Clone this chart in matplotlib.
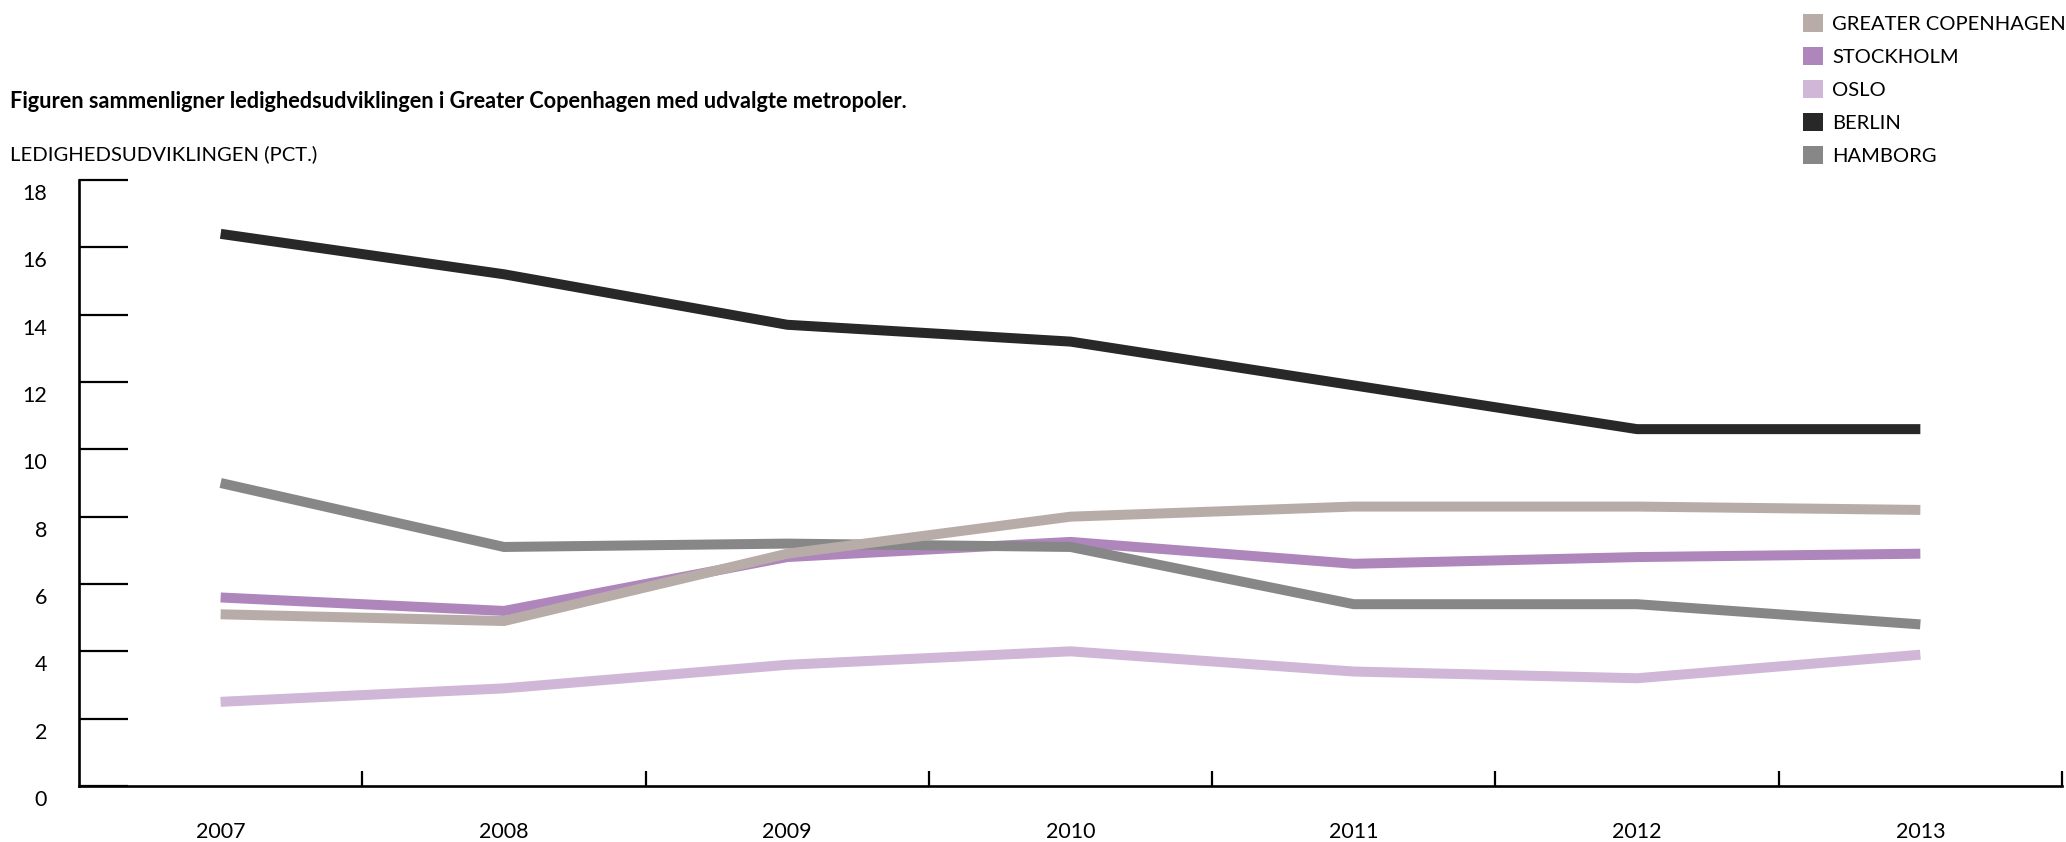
import matplotlib
matplotlib.use("Agg")
import matplotlib.pyplot as plt
import matplotlib.transforms as mtransforms
from matplotlib.patches import Patch

# Ledighed (pct.) 2007-2013
years = ["2007", "2008", "2009", "2010", "2011", "2012", "2013"]
greater_copenhagen = [5.1, 4.9, 6.9, 8.0, 8.3, 8.3, 8.2]
stockholm = [5.6, 5.2, 6.8, 7.25, 6.6, 6.8, 6.9]
oslo = [2.5, 2.9, 3.6, 4.0, 3.4, 3.2, 3.9]
berlin = [16.4, 15.2, 13.7, 13.2, 11.9, 10.6, 10.6]
hamborg = [9.0, 7.1, 7.2, 7.1, 5.4, 5.4, 4.8]

labels = ["GREATER COPENHAGEN", "STOCKHOLM", "OSLO", "BERLIN", "HAMBORG"]
colors = ["#b8aca8", "#ae86bb", "#d0b6d7", "#282828", "#878787"]
yticks = [2, 4, 6, 8, 10, 12, 14, 16, 18]

plt.rcParams['font.family'] = ['Lato', 'DejaVu Sans']

fig = plt.figure(figsize=(20.66, 8.42), dpi=100)
ax = fig.add_axes([79 / 2066, 1 - 786 / 842, (2062 - 79) / 2066, (786 - 180) / 842])

x = list(range(len(years)))
series = {
    "GREATER COPENHAGEN": greater_copenhagen,
    "STOCKHOLM": stockholm,
    "OSLO": oslo,
    "BERLIN": berlin,
    "HAMBORG": hamborg,
}
# draw order: copenhagen on top
draw_order = ["OSLO", "STOCKHOLM", "HAMBORG", "BERLIN", "GREATER COPENHAGEN"]
for name in draw_order:
    ax.plot(x, series[name], color=colors[labels.index(name)], lw=7.2,
            solid_capstyle='butt', solid_joinstyle='miter', zorder=3)

ax.set_xlim(-0.5, len(years) - 0.5)
ax.set_ylim(0, 18)

for side in ["top", "right"]:
    ax.spines[side].set_visible(False)
for side in ["left", "bottom"]:
    ax.spines[side].set_linewidth(1.9)
    ax.spines[side].set_color("black")

# y axis
ax.set_yticks([0] + yticks)
ax.set_yticklabels(["0"] + [str(t) for t in yticks])
ax.tick_params(axis='y', direction='in', length=35, width=1.6, pad=23,
               labelsize=15.5, colors='black')
offset = mtransforms.ScaledTranslation(0, -12 / 100, fig.dpi_scale_trans)
for lbl in ax.get_yticklabels():
    lbl.set_transform(lbl.get_transform() + offset)

# x axis: ticks at category borders, labels at centres
bounds = [i + 0.5 for i in range(len(years))]
ax.set_xticks(bounds)
ax.set_xticklabels([""] * len(bounds))
ax.tick_params(axis='x', which='major', direction='in', length=11, width=1.6)
ax.set_xticks(x, minor=True)
ax.set_xticklabels(years, minor=True)
ax.tick_params(axis='x', which='minor', length=0, pad=26, labelsize=15.5)

fig.text(10 / 2066, 1 - 101 / 842,
         "Figuren sammenligner ledighedsudviklingen i Greater Copenhagen med udvalgte metropoler.",
         fontsize=15.7, fontweight='bold', va='center', ha='left')
fig.text(10 / 2066, 1 - 154 / 842, "LEDIGHEDSUDVIKLINGEN (PCT.)",
         fontsize=14.6, va='center', ha='left')

handles = [Patch(facecolor=c, edgecolor='none') for c in colors]
fig.legend(handles, labels, loc='upper left',
           bbox_to_anchor=(1803 / 2066, 1 - 14 / 842), frameon=False,
           fontsize=14.5, handlelength=1.0, handleheight=1.0,
           handletextpad=0.45, labelspacing=0.7, borderpad=0, borderaxespad=0)

fig.savefig("out.png", dpi=100)
